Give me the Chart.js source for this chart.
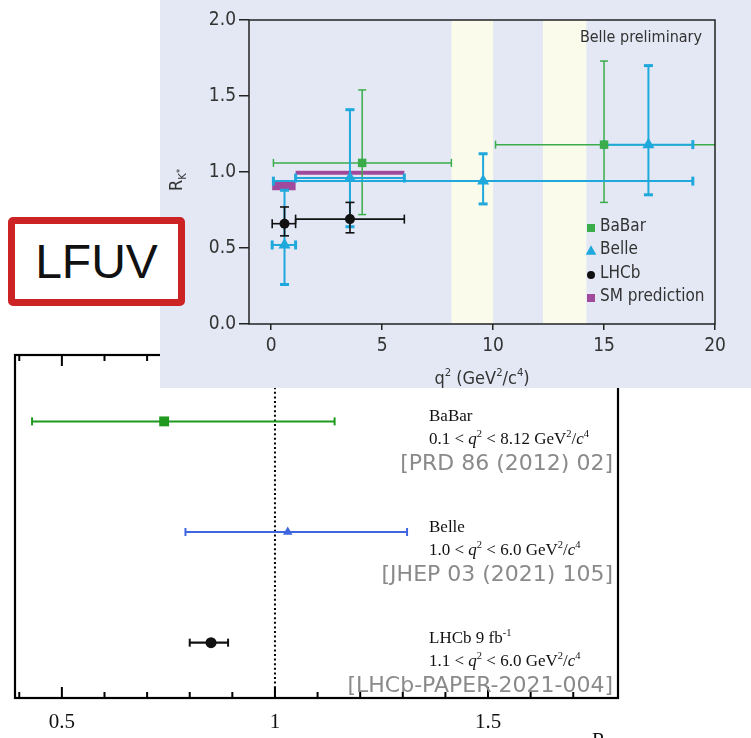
<!DOCTYPE html>
<html>
<head>
<meta charset="utf-8">
<script src="https://cdn.jsdelivr.net/npm/chart.js@4.4.1/dist/chart.umd.min.js"></script>
<style>
  html, body { margin: 0; padding: 0; background: #fff; }
  body { position: relative; width: 751px; height: 738px; overflow: hidden; }
  #combinedWrap { position: absolute; left: 0; top: 0; width: 751px; height: 738px; }
  #binsWrap { position: absolute; left: 160px; top: 0; width: 591px; height: 388px; background: #e4e8f5; }
  #tag {
    position: absolute; left: 8px; top: 217px; width: 163px; height: 75px;
    border: 7px solid #cc2325; border-radius: 5px; background: #fff;
    display: flex; align-items: center; justify-content: center;
    font: 48px 'Liberation Sans', Arial, sans-serif; color: #111;
  }
</style>
</head>
<body>
<div id="combinedWrap"><canvas id="combined" width="751" height="738"></canvas></div>
<div id="binsWrap"><canvas id="bins" width="591" height="388"></canvas></div>
<div id="tag">LFUV</div>

<script>
// ---------- R_K* in bins of q² ----------
const babarQ2   = [4.1, 15.0];
const babarQ2Lo = [0.1, 10.11];
const babarQ2Hi = [8.12, 22.0];
const babarR    = [1.06, 1.18];
const babarRLo  = [0.72, 0.80];
const babarRHi  = [1.54, 1.73];

const belleQ2   = [0.6, 3.55, 9.55, 17.0];
const belleQ2Lo = [0.045, 1.1, 0.1, 15.0];
const belleQ2Hi = [1.1, 6.0, 19.0, 19.0];
const belleR    = [0.52, 0.96, 0.94, 1.18];
const belleRLo  = [0.26, 0.64, 0.79, 0.85];
const belleRHi  = [0.88, 1.41, 1.12, 1.70];

const lhcbQ2   = [0.6, 3.55];
const lhcbQ2Lo = [0.045, 1.1];
const lhcbQ2Hi = [1.1, 6.0];
const lhcbR    = [0.66, 0.69];
const lhcbRLo  = [0.58, 0.60];
const lhcbRHi  = [0.77, 0.80];

const smQ2Lo = [0.045, 1.1];
const smQ2Hi = [1.1, 6.0];
const smRLo  = [0.88, 0.982];
const smRHi  = [0.935, 1.008];

// charmonium veto windows
const vetoLo = [8.12, 12.25];
const vetoHi = [10.0, 14.2];

const q2Ticks = [0, 5, 10, 15, 20];
const rkTicks = [0, 0.5, 1.0, 1.5, 2.0];

// ---------- combined low-q² results ----------
const expNames  = ['BaBar', 'Belle', 'LHCb 9 fb'];
const expLumi   = ['', '', '-1'];
const combR     = [0.74, 1.03, 0.85];
const combLo    = [0.43, 0.79, 0.80];
const combHi    = [1.14, 1.31, 0.89];
const combRow   = [2.5, 1.5, 0.5];
const rangeLo   = ['0.1', '1.0', '1.1'];
const rangeHi   = ['8.12', '6.0', '6.0'];
const refs      = ['[PRD 86 (2012) 02]', '[JHEP 03 (2021) 105]', '[LHCb-PAPER-2021-004]'];
const rMinorTicks = [0.4, 0.5, 0.6, 0.7, 0.8, 0.9, 1.0, 1.1, 1.2, 1.3, 1.4, 1.5, 1.6, 1.7];
const rMajorTicks = [0.5, 1.0, 1.5];

const GREEN = '#3aad4a', CYAN = '#1fa8db', PURPLE = '#a04a9e', INK = '#111';
const GREEN2 = '#1f9a1f', BLUE2 = '#3f66e0';
const COND = "'DejaVu Sans Condensed', 'Liberation Sans Narrow', 'Roboto Condensed', Roboto, sans-serif";
const SERIF = "'Liberation Serif', 'Times New Roman', 'DejaVu Serif', serif";
const SANS = "'DejaVu Sans', 'Liberation Sans', sans-serif";

// text with super/subscripts; y is the baseline
function richText(ctx, parts, x, y, o) {
  const size = o.size;
  const fontFor = p => {
    const s = p.scale ? size * p.scale : (p.sup || p.sub) ? size * 0.62 : size;
    return `${p.it ? 'italic ' : ''}${s.toFixed(1)}px ${o.family}`;
  };
  let w = 0;
  parts.forEach(p => { ctx.font = fontFor(p); p.w = ctx.measureText(p.t).width; w += p.w; });
  let cx = o.align === 'center' ? x - w / 2 : o.align === 'right' ? x - w : x;
  ctx.textAlign = 'left';
  ctx.textBaseline = 'alphabetic';
  ctx.fillStyle = o.color;
  parts.forEach(p => {
    ctx.font = fontFor(p);
    const dy = p.dy !== undefined ? p.dy * size : p.sup ? -size * 0.42 : p.sub ? size * 0.22 : 0;
    ctx.fillText(p.t, cx, y + dy);
    cx += p.w;
  });
}

function line(ctx, x0, y0, x1, y1) {
  ctx.beginPath(); ctx.moveTo(x0, y0); ctx.lineTo(x1, y1); ctx.stroke();
}

// horizontal / vertical error bars with end caps, taken from dataset fields
const errorBars = {
  id: 'errorBars',
  beforeDatasetsDraw(chart) {
    const { ctx, chartArea: a, scales: { x, y } } = chart;
    ctx.save();
    ctx.beginPath(); ctx.rect(a.left, a.top, a.width, a.height); ctx.clip();
    chart.data.datasets.forEach(ds => {
      if (!ds.errX && !ds.errY) return;
      ctx.strokeStyle = ds.errColor;
      ds.data.forEach((p, i) => {
        const px = x.getPixelForValue(p.x), py = y.getPixelForValue(p.y);
        if (ds.errX) {
          const x0 = x.getPixelForValue(ds.errX[0][i]), x1 = x.getPixelForValue(ds.errX[1][i]);
          ctx.lineWidth = ds.errWidth;
          line(ctx, x0, py, x1, py);
          ctx.lineWidth = ds.capThick;
          line(ctx, x0, py - ds.capLen, x0, py + ds.capLen);
          line(ctx, x1, py - ds.capLen, x1, py + ds.capLen);
        }
        if (ds.errY) {
          const y0 = y.getPixelForValue(ds.errY[0][i]), y1 = y.getPixelForValue(ds.errY[1][i]);
          ctx.lineWidth = ds.errWidth;
          line(ctx, px, y0, px, y1);
          ctx.lineWidth = ds.capThick;
          line(ctx, px - ds.capLen, y0, px + ds.capLen, y0);
          line(ctx, px - ds.capLen, y1, px + ds.capLen, y1);
        }
      });
    });
    ctx.restore();
  }
};

function drawMarker(ctx, style, x, y, r, color) {
  ctx.fillStyle = color;
  ctx.beginPath();
  if (style === 'rect') ctx.rect(x - r, y - r, 2 * r, 2 * r);
  else if (style === 'triangle') { ctx.moveTo(x, y - r * 1.2); ctx.lineTo(x + r * 1.1, y + r * 0.8); ctx.lineTo(x - r * 1.1, y + r * 0.8); ctx.closePath(); }
  else ctx.arc(x, y, r, 0, Math.PI * 2);
  ctx.fill();
}

// veto bands, SM boxes, frame, titles and legend of the q² panel
const binsDecor = {
  id: 'binsDecor',
  beforeDatasetsDraw(chart) {
    const { ctx, chartArea: a, scales: { x, y } } = chart;
    ctx.save();
    ctx.fillStyle = '#fbfbec';
    vetoLo.forEach((lo, i) => {
      const x0 = x.getPixelForValue(lo), x1 = x.getPixelForValue(vetoHi[i]);
      ctx.fillRect(x0, a.top, x1 - x0, a.height);
    });
    ctx.fillStyle = PURPLE;
    smQ2Lo.forEach((lo, i) => {
      const x0 = x.getPixelForValue(lo), x1 = x.getPixelForValue(smQ2Hi[i]);
      const y0 = y.getPixelForValue(smRHi[i]), y1 = y.getPixelForValue(smRLo[i]);
      ctx.fillRect(x0, y0, x1 - x0, y1 - y0);
    });
    ctx.restore();
  },
  afterDraw(chart) {
    const { ctx, chartArea: a } = chart;
    ctx.save();
    ctx.strokeStyle = '#222';
    ctx.lineWidth = 1.5;
    ctx.strokeRect(a.left, a.top, a.width, a.height);

    ctx.fillStyle = '#333';
    ctx.font = `16px ${COND}`;
    ctx.textAlign = 'right';
    ctx.textBaseline = 'middle';
    ctx.fillText('Belle preliminary', a.right - 13, a.top + 18);

    // legend
    const rows = [207, 230, 254, 277];
    chart.data.datasets.forEach((ds, i) => {
      const ly = a.top + rows[i];
      drawMarker(ctx, ds.legendStyle, a.right - 124, ly + 1, ds.legendStyle === 'triangle' ? 4.8 : 4, ds.backgroundColor);
      ctx.fillStyle = '#333';
      ctx.font = `17px ${COND}`;
      ctx.textAlign = 'left';
      ctx.textBaseline = 'middle';
      ctx.fillText(ds.label, a.right - 115, ly);
    });

    // axis titles
    richText(ctx, [{ t: 'q' }, { t: '2', sup: true }, { t: ' (GeV' }, { t: '2', sup: true }, { t: '/c' }, { t: '4', sup: true }, { t: ')' }],
      (a.left + a.right) / 2, 384, { size: 18, family: COND, color: '#333', align: 'center' });
    ctx.translate(a.left - 73, (a.top + a.bottom) / 2 + 8);
    ctx.rotate(-Math.PI / 2);
    richText(ctx, [{ t: 'R' }, { t: 'K', sub: true }, { t: '*', scale: 0.5, dy: 0.05 }],
      0, 6, { size: 18, family: COND, color: '#333', align: 'center' });
    ctx.restore();
  }
};

const pts = (xs, ys) => xs.map((v, i) => ({ x: v, y: ys[i] }));

new Chart(document.getElementById('bins'), {
  type: 'scatter',
  data: {
    datasets: [
      { label: 'BaBar', data: pts(babarQ2, babarR), pointStyle: 'rect', pointRadius: 6,
        backgroundColor: GREEN, borderWidth: 0, legendStyle: 'rect',
        errX: [babarQ2Lo, babarQ2Hi], errY: [babarRLo, babarRHi], errColor: GREEN, errWidth: 1.5, capThick: 1.5, capLen: 4 },
      { label: 'Belle', data: pts(belleQ2, belleR), pointStyle: 'triangle', pointRadius: 7,
        backgroundColor: CYAN, borderWidth: 0, legendStyle: 'triangle',
        errX: [belleQ2Lo, belleQ2Hi], errY: [belleRLo, belleRHi], errColor: CYAN, errWidth: 2, capThick: 3, capLen: 4.5 },
      { label: 'LHCb', data: pts(lhcbQ2, lhcbR), pointStyle: 'circle', pointRadius: 5,
        backgroundColor: INK, borderWidth: 0, legendStyle: 'circle',
        errX: [lhcbQ2Lo, lhcbQ2Hi], errY: [lhcbRLo, lhcbRHi], errColor: INK, errWidth: 1.6, capThick: 1.6, capLen: 4.5 },
      { label: 'SM prediction', data: [], backgroundColor: PURPLE, legendStyle: 'rect' }
    ]
  },
  options: {
    responsive: false, animation: false, devicePixelRatio: 1,
    layout: { padding: { top: 20, right: 36, left: 0, bottom: 0 } },
    plugins: { legend: { display: false }, tooltip: { enabled: false } },
    scales: {
      x: {
        type: 'linear', min: -1, max: 20,
        afterBuildTicks: s => { s.ticks = q2Ticks.map(v => ({ value: v })); },
        afterFit: s => { s.height = 64; },
        border: { display: false },
        grid: { drawOnChartArea: false, drawTicks: true, tickLength: 6, color: '#222', lineWidth: 1.5 },
        ticks: { color: '#333', font: { family: COND, size: 19 }, padding: 5, maxRotation: 0, autoSkip: false }
      },
      y: {
        type: 'linear', min: 0, max: 2,
        afterBuildTicks: s => { s.ticks = rkTicks.map(v => ({ value: v })); },
        afterFit: s => { s.width = 89; },
        border: { display: false },
        grid: { drawOnChartArea: false, drawTicks: true, tickLength: 10, color: '#222', lineWidth: 1.5 },
        ticks: { color: '#333', font: { family: COND, size: 19 }, padding: 3, callback: v => v.toFixed(1) }
      }
    }
  },
  plugins: [binsDecor, errorBars]
});

// ---------- combined results panel ----------
const combinedDecor = {
  id: 'combinedDecor',
  beforeDatasetsDraw(chart) {
    const { ctx, chartArea: a, scales: { x } } = chart;
    ctx.save();
    ctx.strokeStyle = '#000';
    ctx.lineWidth = 2;
    ctx.setLineDash([2, 2.6]);
    const x1 = x.getPixelForValue(1.0);
    line(ctx, x1, a.top, x1, a.bottom);
    ctx.restore();
  },
  afterDraw(chart) {
    const { ctx, chartArea: a, scales: { x, y } } = chart;
    ctx.save();
    ctx.strokeStyle = '#000';
    ctx.lineWidth = 2.2;
    ctx.strokeRect(a.left, a.top, a.width, a.height);
    ctx.lineWidth = 2;
    rMinorTicks.forEach(v => {
      const px = x.getPixelForValue(v);
      const len = rMajorTicks.some(m => Math.abs(m - v) < 1e-6) ? 11 : 6;
      line(ctx, px, a.bottom, px, a.bottom - len);
      line(ctx, px, a.top, px, a.top + len);
    });

    expNames.forEach((name, i) => {
      const py = y.getPixelForValue(combRow[i]);
      const nameParts = [{ t: name }];
      if (expLumi[i]) nameParts.push({ t: expLumi[i], sup: true });
      richText(ctx, nameParts, 429, py, { size: 17, family: SERIF, color: '#111' });
      richText(ctx, [{ t: rangeLo[i] + ' < ' }, { t: 'q', it: true }, { t: '2', sup: true },
        { t: ' < ' + rangeHi[i] + ' GeV' }, { t: '2', sup: true }, { t: '/' }, { t: 'c', it: true }, { t: '4', sup: true }],
        429, py + 23, { size: 17, family: SERIF, color: '#111' });
      ctx.fillStyle = '#8a8a8a';
      ctx.font = `22px ${SANS}`;
      ctx.textAlign = 'right';
      ctx.textBaseline = 'alphabetic';
      ctx.fillText(refs[i], 613, py + 49);
    });

    // axis title at the lower edge
    richText(ctx, [{ t: 'R' }, { t: 'K*0', sub: true }], 592, 747, { size: 20, family: SERIF, color: '#111' });
    ctx.restore();
  }
};

new Chart(document.getElementById('combined'), {
  type: 'scatter',
  data: {
    datasets: [
      { label: 'BaBar', data: [{ x: combR[0], y: combRow[0] }], pointStyle: 'rect', pointRadius: 7,
        backgroundColor: GREEN2, borderWidth: 0,
        errX: [[combLo[0]], [combHi[0]]], errColor: GREEN2, errWidth: 2, capThick: 2, capLen: 4 },
      { label: 'Belle', data: [{ x: combR[1], y: combRow[1] }], pointStyle: 'triangle', pointRadius: 5.5,
        backgroundColor: BLUE2, borderWidth: 0,
        errX: [[combLo[1]], [combHi[1]]], errColor: BLUE2, errWidth: 2, capThick: 2, capLen: 4 },
      { label: 'LHCb', data: [{ x: combR[2], y: combRow[2] }], pointStyle: 'circle', pointRadius: 5.5,
        backgroundColor: INK, borderWidth: 0,
        errX: [[combLo[2]], [combHi[2]]], errColor: INK, errWidth: 2.2, capThick: 2, capLen: 4 }
    ]
  },
  options: {
    responsive: false, animation: false, devicePixelRatio: 1,
    layout: { padding: { top: 355, right: 133, left: 15, bottom: 0 } },
    plugins: { legend: { display: false }, tooltip: { enabled: false } },
    scales: {
      x: {
        type: 'linear', min: 0.39, max: 1.805,
        afterBuildTicks: s => { s.ticks = rMajorTicks.map(v => ({ value: v })); },
        afterFit: s => { s.height = 40; },
        border: { display: false },
        grid: { display: false, drawTicks: false },
        ticks: { color: '#111', font: { family: SERIF, size: 21 }, padding: 12, maxRotation: 0, autoSkip: false,
                 callback: v => String(+v.toFixed(1)) }
      },
      y: { type: 'linear', min: 0, max: 3.1, display: false }
    }
  },
  plugins: [combinedDecor, errorBars]
});
</script>
</body>
</html>
